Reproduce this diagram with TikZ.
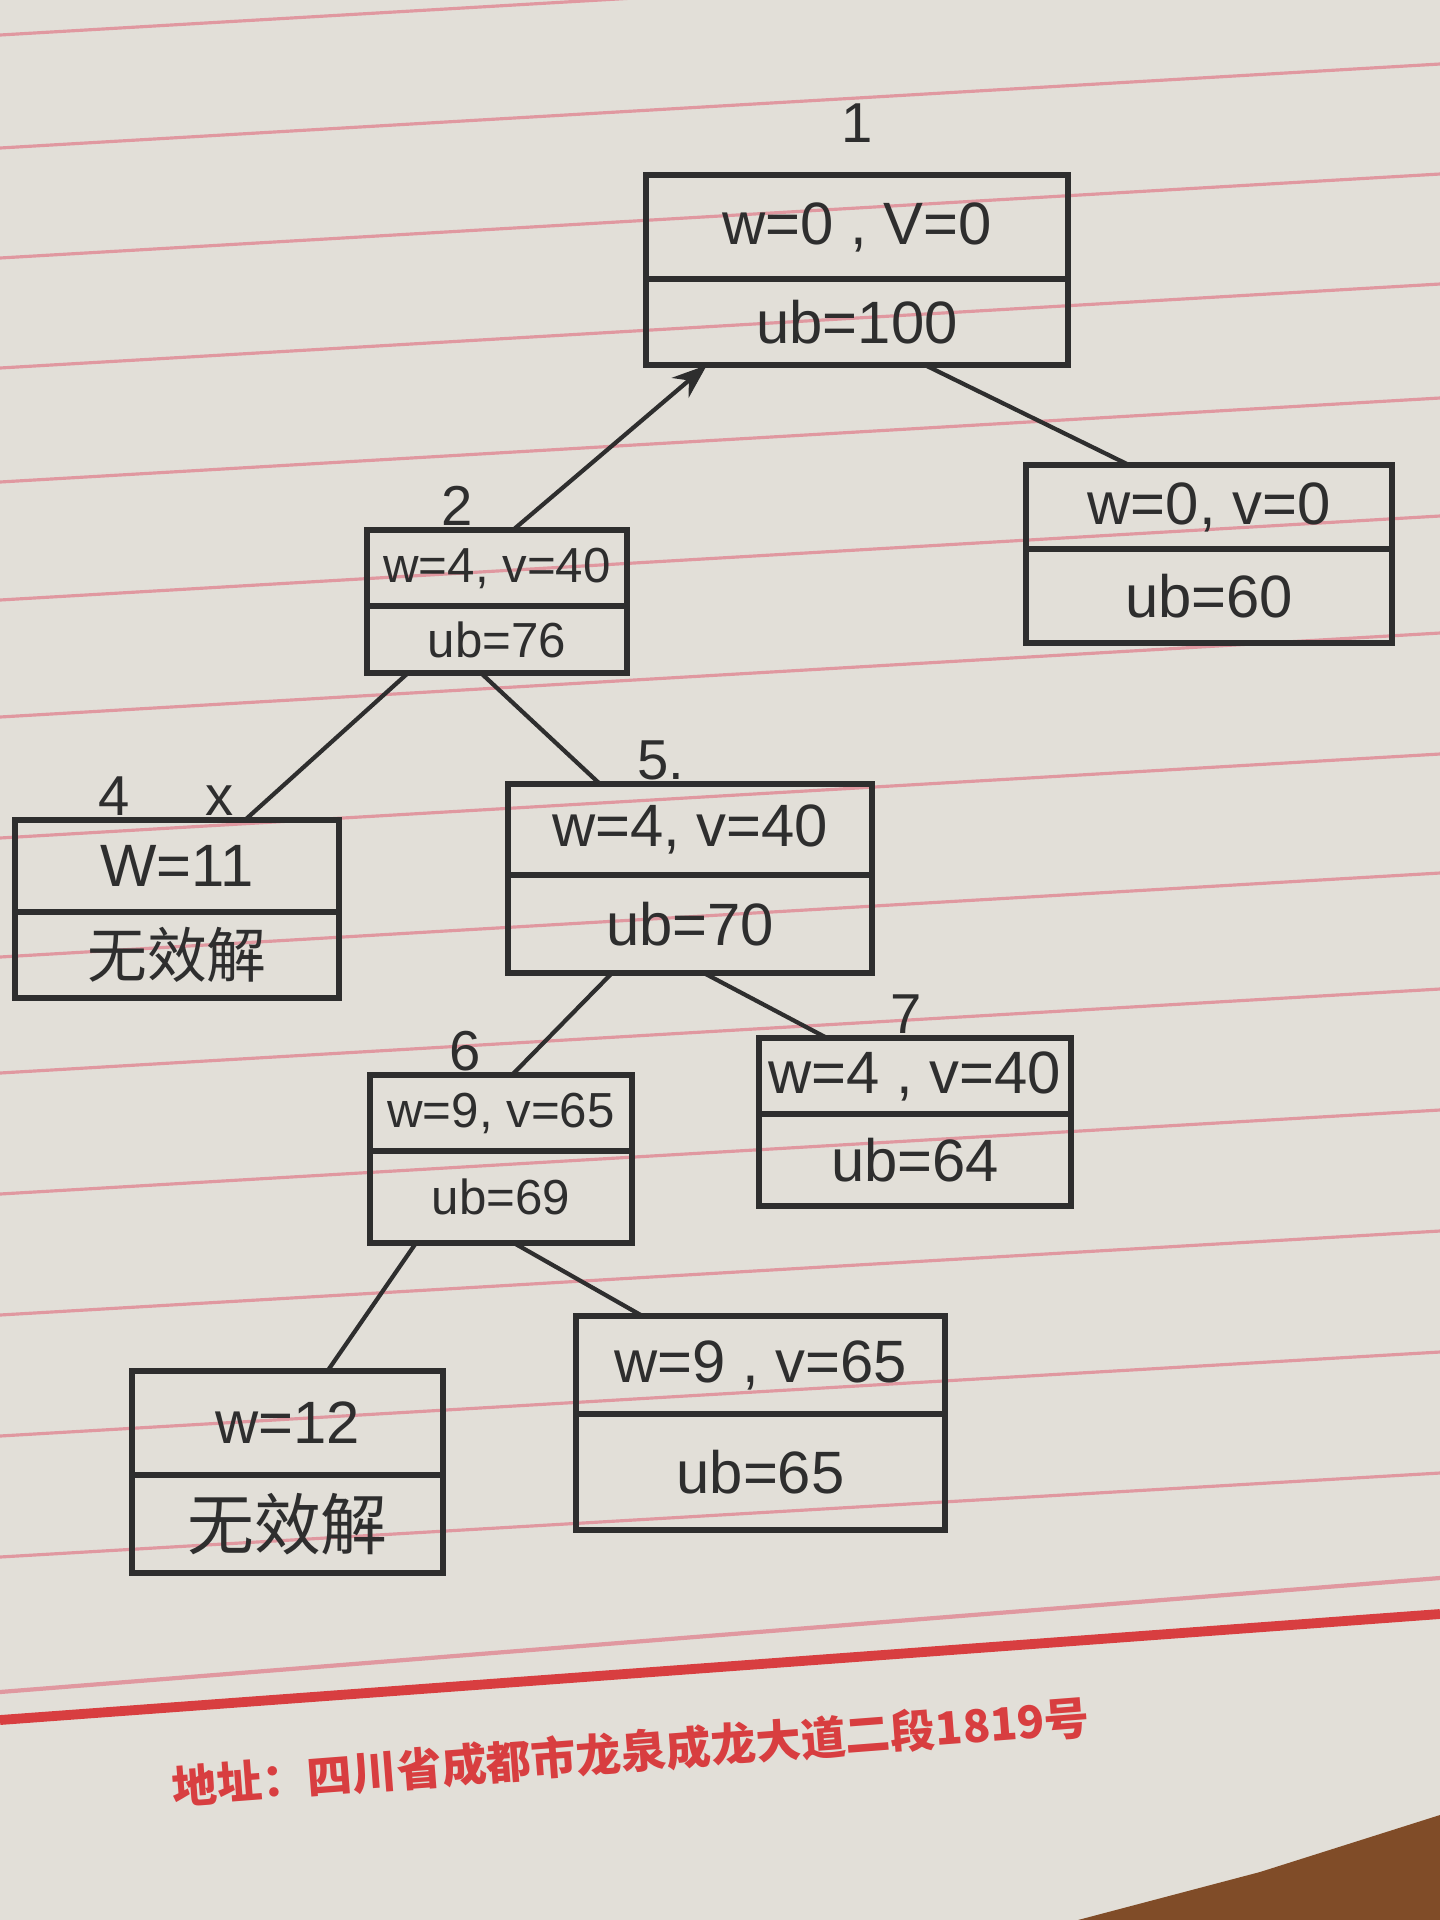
\documentclass[tikz,border=0pt]{standalone}
\usepackage{fontspec}
\setmainfont{Liberation Sans}
\newfontfamily\cjk{Noto Sans CJK SC}
\usetikzlibrary{
    arrows.meta,
    positioning
}
\definecolor{paper}{RGB}{226,223,216}
\definecolor{ink}{RGB}{46,46,46}
\definecolor{ruleline}{RGB}{224,152,160}
\definecolor{margin}{RGB}{216,62,64}
\definecolor{wood}{RGB}{128,76,40}

\begin{document}
\begin{tikzpicture}[
    x=0.01cm,
    y=-0.01cm,
    cell/.style={
        draw=ink,
        line width=1.6pt,
        outer sep=0pt,
        inner sep=2pt,
        text=ink,
        font=\fontsize{17}{19}\selectfont
    },
    smallcell/.style={
        cell,
        font=\fontsize{14}{16}\selectfont
    },
    tag/.style={
        text=ink,
        inner sep=1pt,
        font=\fontsize{16}{18}\selectfont
    },
    branch/.style={
        draw=ink,
        line width=1.2pt
    },
    backarrow/.style={
        branch,
        -{Stealth[length=3.5mm, width=2.6mm]}
    },
    ruled/.style={
        draw=ruleline,
        line width=0.9pt
    },
    address/.style={
        text=margin,
        inner sep=0pt,
        font=\cjk\bfseries\fontsize{12.8}{15}\selectfont
    }
]

% sheet of ruled paper
\useasboundingbox (0,0) rectangle (1440,1920);
\fill[paper] (0,0) rectangle (1440,1920);
\foreach \y in {35,148,258,368,482,600,717,838,957,1073,1194,1315,1436,1557}
    \draw[ruled] (0,\y) -- (1440,\y-84);
\draw[ruled, line width=1.2pt] (0,1692) -- (1440,1578);
\draw[draw=margin, line width=2.8pt] (0,1720) -- (1440,1614);
\fill[wood] (1440,1815) -- (1260,1872) -- (1078,1920) -- (1440,1920) -- cycle;

% search tree
\node[cell, minimum width=4.22cm, minimum height=1.04cm] (n1) at (857,227) {w=0 , V=0};
\node[cell, minimum width=4.22cm, minimum height=0.86cm, below=0pt of n1] (n1u) {ub=100};

\node[cell, minimum width=3.66cm, minimum height=0.84cm] (n3) at (1209,507) {w=0, v=0};
\node[cell, minimum width=3.66cm, minimum height=0.94cm, below=0pt of n3] (n3u) {ub=60};

\node[smallcell, minimum width=2.60cm, minimum height=0.76cm] (n2) at (497,568) {w=4, v=40};
\node[smallcell, minimum width=2.60cm, minimum height=0.67cm, below=0pt of n2] (n2u) {ub=76};

\node[cell, minimum width=3.24cm, minimum height=0.92cm] (n4) at (177,866) {W=11};
\node[cell, minimum width=3.24cm, minimum height=0.86cm, below=0pt of n4] (n4u) {\cjk 无效解};

\node[cell, minimum width=3.64cm, minimum height=0.91cm] (n5) at (690,829.5) {w=4, v=40};
\node[cell, minimum width=3.64cm, minimum height=0.98cm, below=0pt of n5] (n5u) {ub=70};

\node[cell, minimum width=3.12cm, minimum height=0.76cm] (n7) at (915,1076) {w=4 , v=40};
\node[cell, minimum width=3.12cm, minimum height=0.92cm, below=0pt of n7] (n7u) {ub=64};

\node[smallcell, minimum width=2.62cm, minimum height=0.76cm] (n6) at (501,1113) {w=9, v=65};
\node[smallcell, minimum width=2.62cm, minimum height=0.92cm, below=0pt of n6] (n6u) {ub=69};

\node[cell, minimum width=3.11cm, minimum height=1.04cm] (n8) at (287.5,1423) {w=12};
\node[cell, minimum width=3.11cm, minimum height=0.98cm, below=0pt of n8, font=\cjk\fontsize{19}{21}\selectfont] (n8u) {无效解};

\node[cell, minimum width=3.69cm, minimum height=0.98cm] (n9) at (760.5,1365) {w=9 , v=65};
\node[cell, minimum width=3.69cm, minimum height=1.16cm, below=0pt of n9] (n9u) {ub=65};

% node numbers
\node[tag, above=0.28cm of n1] (t1) {1};
\node[tag, above=0pt of n2, xshift=-0.40cm] (t2) {2};
\node[tag, above=0pt of n4, xshift=-0.63cm] (t4) {4};
\node[tag, above=0pt of n4, xshift=0.43cm] (cut4) {x};
\node[tag, above=0pt of n5, xshift=-0.29cm] (t5) {5.};
\node[tag, above=0pt of n7, xshift=-0.09cm] (t7) {7};
\node[tag, above=0pt of n6, xshift=-0.36cm] (t6) {6};

% branches
\draw[backarrow] ([xshift=0.16cm]n2.north) -- ([xshift=-1.50cm]n1u.south);
\draw[branch] ([xshift=0.68cm]n1u.south) -- ([xshift=-0.80cm]n3.north);
\draw[branch] ([xshift=-0.89cm]n2u.south) -- ([xshift=0.68cm]n4.north);
\draw[branch] ([xshift=-0.16cm]n2u.south) -- ([xshift=-0.90cm]n5.north);
\draw[branch] ([xshift=-0.78cm]n5u.south) -- ([xshift=0.11cm]n6.north);
\draw[branch] ([xshift=0.14cm]n5u.south) -- ([xshift=-0.88cm]n7.north);
\draw[branch] ([xshift=-0.85cm]n6u.south) -- ([xshift=0.40cm]n8.north);
\draw[branch] ([xshift=0.13cm]n6u.south) -- ([xshift=-1.18cm]n9.north);

% printed footer
\node[address, rotate=4.4] (addr) at (631,1752) {地址：四川省成都市龙泉成龙大道二段1819号};

\end{tikzpicture}
\end{document}
